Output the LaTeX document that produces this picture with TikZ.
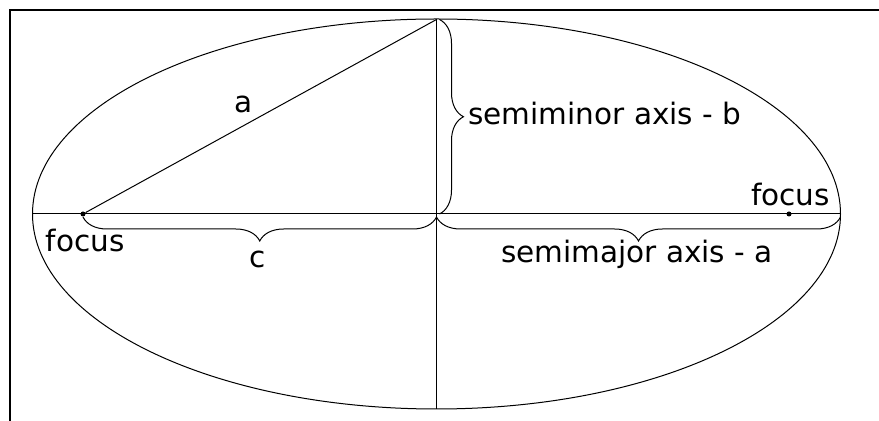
\documentclass[tikz,border=0pt]{standalone}
\usepackage{fontspec}
\setmainfont{DejaVu Sans}
\usetikzlibrary{decorations.pathreplacing}

\begin{document}
\begin{tikzpicture}[x=0.5pt,y=-0.5pt,
  ln/.style={draw=black,line width=0.5pt},
  brc/.style={ln,decorate,decoration={brace,amplitude=12pt,raise=1.5pt}},
  brcm/.style={ln,decorate,decoration={brace,mirror,amplitude=12pt,raise=1.5pt}},
  lbl/.style={font=\fontsize{14.75}{17}\selectfont,inner sep=0pt,anchor=base},
  fdot/.style={fill=black,circle,inner sep=0pt,minimum size=2.5pt}]
\useasboundingbox (0,0) rectangle (879,421);
\draw[line width=1pt] (9.8,421) |- (879,10);
\coordinate (o) at (436.5,214);
\coordinate (t) at (436.5,19.5);
\coordinate (bt) at (436.5,409.5);
\coordinate (l) at (32.5,214);
\coordinate (r) at (840.5,214);
\node[fdot] (f1) at (83,214) {};
\node[fdot] (f2) at (789,214) {};
\draw[ln] (o) ellipse [x radius=404, y radius=195];
\draw[ln] (l) -- (r);
\draw[ln] (t) -- (bt);
\draw[ln] (f1) -- (t);
\draw[brc] (t) -- (o);
\draw[brcm] (f1.center) -- (o);
\draw[brcm] (o) -- (r);
\node[lbl] (la) at (244,113) {a};
\node[lbl,anchor=base west] (lb) at (468,125) {semiminor axis - b};
\node[lbl] (lc) at (258,268) {c};
\node[lbl] (lma) at (637,263) {semimajor axis - a};
\node[lbl] (lf1) at (85,252) {focus};
\node[lbl] (lf2) at (790.5,206) {focus};
\end{tikzpicture}
\end{document}
